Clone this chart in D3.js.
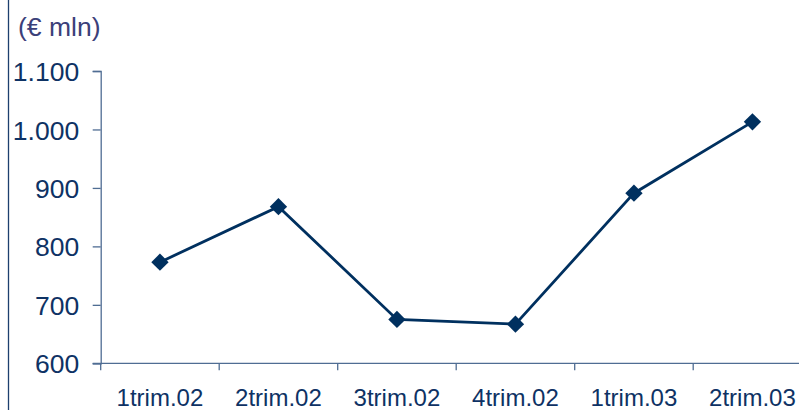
<!DOCTYPE html>
<html>
<head>
<meta charset="utf-8">
<script src="https://cdn.jsdelivr.net/npm/d3@7"></script>
<style>
  html, body { margin: 0; padding: 0; background: #fff; }
  svg { display: block; }
</style>
</head>
<body>
<svg id="chart" width="799" height="410"></svg>
<script>
// Quarterly figures, € mln
const categories = ["1trim.02", "2trim.02", "3trim.02", "4trim.02", "1trim.03", "2trim.03"];
const values = [773, 868, 675, 667, 891, 1013];
const yTicks = [600, 700, 800, 900, 1000, 1100];
const unitLabel = "(€ mln)";

const W = 799, H = 410;
const margin = { left: 100.7, top: 71, bottom: 410 - 363.3 };
const svg = d3.select("#chart");

const x = d3.scaleBand()
  .domain(categories)
  .range([margin.left, margin.left + 118.5 * categories.length])
  .padding(0);

const y = d3.scaleLinear()
  .domain([600, 1100])
  .range([363.3, 71]);

const axisColor = "#4f6d93";
const textColor = "#0e3264";
const lineColor = "#00305f";
const fontFamily = "'Liberation Sans', Arial, sans-serif";

// frame line on the left edge
svg.append("line")
  .attr("x1", 8.5).attr("x2", 8.5)
  .attr("y1", 0).attr("y2", H)
  .attr("stroke", "#1d3f6e").attr("stroke-width", 1.3);

// unit label
svg.append("text")
  .attr("x", 18).attr("y", 36)
  .attr("font-family", fontFamily)
  .attr("font-size", 26.5)
  .attr("fill", "#3b4079")
  .text(unitLabel);

// y axis
const fmt = d => d3.format(",")(d).replace(/,/g, ".");
const yAxis = svg.append("g")
  .attr("transform", `translate(${margin.left},0)`)
  .call(d3.axisLeft(y).tickValues(yTicks).tickFormat(fmt).tickSize(8).tickPadding(13.5));
yAxis.select(".domain").attr("stroke", axisColor).attr("stroke-width", 1.3);
yAxis.selectAll(".tick line").attr("stroke", axisColor).attr("stroke-width", 1.3);
yAxis.selectAll(".tick text")
  .attr("font-family", fontFamily)
  .attr("font-size", 26.5)
  .attr("fill", textColor)
  .attr("dy", "0.36em");

// x axis with ticks at band boundaries
const xAxisG = svg.append("g").attr("transform", `translate(0,${y(600)})`);
xAxisG.append("line")
  .attr("x1", margin.left - 8).attr("x2", W)
  .attr("stroke", axisColor).attr("stroke-width", 1.3);
const bounds = categories.map(c => x(c)).concat([x.range()[1]]);
xAxisG.selectAll("line.tk").data(bounds).join("line")
  .attr("class", "tk")
  .attr("x1", d => d).attr("x2", d => d)
  .attr("y1", 0).attr("y2", 7)
  .attr("stroke", axisColor).attr("stroke-width", 1.3);
xAxisG.selectAll("text").data(categories).join("text")
  .attr("x", d => x(d) + x.bandwidth() / 2)
  .attr("y", 43)
  .attr("text-anchor", "middle")
  .attr("font-family", fontFamily)
  .attr("font-size", 24)
  .attr("fill", textColor)
  .text(d => d);

// series line
const pts = categories.map((c, i) => ({ c, v: values[i] }));
const line = d3.line()
  .x(d => x(d.c) + x.bandwidth() / 2)
  .y(d => y(d.v));
svg.append("path")
  .datum(pts)
  .attr("d", line)
  .attr("fill", "none")
  .attr("stroke", lineColor)
  .attr("stroke-width", 2.8);

// diamond markers
const diamond = d3.symbol().type(d3.symbolSquare).size(150);
svg.selectAll("path.marker").data(pts).join("path")
  .attr("class", "marker")
  .attr("d", diamond)
  .attr("transform", d => `translate(${x(d.c) + x.bandwidth() / 2},${y(d.v)}) rotate(45)`)
  .attr("fill", lineColor);
</script>
</body>
</html>
